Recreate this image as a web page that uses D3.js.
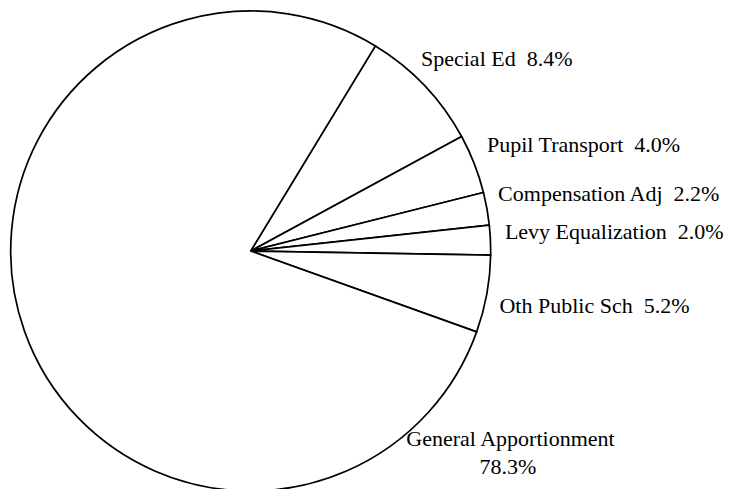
<!DOCTYPE html>
<html>
<head>
<meta charset="utf-8">
<script src="https://cdn.jsdelivr.net/npm/d3@7"></script>
<style>
  html, body { margin: 0; padding: 0; background: #fff; }
  svg { display: block; }
  text { fill: #000; white-space: pre; }
</style>
</head>
<body>
<svg id="chart" width="744" height="489"></svg>
<script>
// Funding categories (clockwise from the Special Ed edge) and their shares in percent
const categories = ["Special Ed", "Pupil Transport", "Compensation Adj", "Levy Equalization", "Oth Public Sch", "General Apportionment"];
const shares = [8.4, 4.0, 2.2, 2.0, 5.2, 78.3];

// Label nudges relative to each slice's outer anchor point (layout only)
const labelNudge = [[-18, -6], [-6, -5], [-8.5, -4.5], [-5.5, 0], [-7, 15], [15, 107]];

const FONT = "'Liberation Serif', 'Times New Roman', Times, 'DejaVu Serif', serif";
const W = 744, H = 489;
const cx = 250.7, cy = 251, R = 240;
const startDeg = 31.3;

const svg = d3.select("#chart");
const g = svg.append("g").attr("transform", `translate(${cx},${cy})`);

const data = categories.map((c, i) => ({ name: c, value: shares[i], i }));

const pie = d3.pie()
  .sort(null)
  .value(d => d.value)
  .startAngle(startDeg * Math.PI / 180)
  .endAngle(startDeg * Math.PI / 180 + 2 * Math.PI);

const arcs = pie(data);
const arc = d3.arc().innerRadius(0).outerRadius(R);

g.selectAll("path.slice")
  .data(arcs)
  .join("path")
  .attr("class", "slice")
  .attr("d", arc)
  .attr("fill", "#fff")
  .attr("stroke", "#000")
  .attr("stroke-width", 1.7)
  .attr("stroke-linejoin", "round");

const fmt = v => d3.format(".1f")(v) + "%";
const labelR = R + 20;

arcs.forEach((a, k) => {
  const nudge = labelNudge[k];
  const isBig = a.data.name === "General Apportionment";
  // small slices anchor at their mid angle; the large slice anchors at its leading edge
  const ang = isBig ? a.startAngle : (a.startAngle + a.endAngle) / 2;
  const px = labelR * Math.sin(ang) + nudge[0];
  const py = -labelR * Math.cos(ang) + nudge[1];
  const t = g.append("text")
    .attr("x", px).attr("y", py)
    .attr("font-family", FONT)
    .attr("font-size", 22)
    .attr("text-anchor", isBig ? "middle" : "start");
  if (isBig) {
    t.append("tspan").attr("x", px).attr("dy", 0).text(a.data.name);
    t.append("tspan").attr("x", px - 2.5).attr("dy", 28).text(fmt(a.data.value));
  } else {
    t.text(a.data.name + "  " + fmt(a.data.value));
  }
});
</script>
</body>
</html>
